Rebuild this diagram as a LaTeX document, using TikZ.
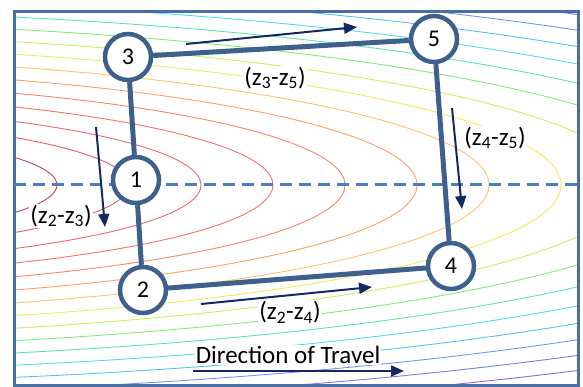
\documentclass[tikz,border=0pt]{standalone}
\usepackage{fontspec}
\setmainfont{Carlito}
\usetikzlibrary{arrows.meta}

\definecolor{ringblue}{RGB}{62,96,140}
\definecolor{frameblue}{RGB}{75,110,160}
\definecolor{dashblue}{RGB}{75,125,195}
\definecolor{stepnavy}{RGB}{20,40,100}
% 等高线颜色
\definecolor{c0}{RGB}{170,80,80}
\definecolor{c1}{RGB}{235,90,100}
\definecolor{c2}{RGB}{245,100,110}
\definecolor{c3}{RGB}{250,110,110}
\definecolor{c4}{RGB}{250,130,110}
\definecolor{c5}{RGB}{252,160,100}
\definecolor{c6}{RGB}{252,195,110}
\definecolor{c7}{RGB}{240,235,90}
\definecolor{c8}{RGB}{200,240,90}
\definecolor{c9}{RGB}{130,235,120}
\definecolor{c10}{RGB}{90,230,170}
\definecolor{c11}{RGB}{80,220,230}
\definecolor{c12}{RGB}{90,190,240}
\definecolor{c13}{RGB}{110,150,240}
\definecolor{c14}{RGB}{130,120,230}
\definecolor{c15}{RGB}{150,100,220}

\begin{document}
\begin{tikzpicture}[
    x=1pt, y=-1pt,
    point/.style={circle, draw=ringblue, fill=white, line width=4.5pt,
      minimum size=46pt, inner sep=0pt, font=\fontsize{24}{24}\selectfont},
    leg/.style={draw=ringblue, line width=5pt},
    move/.style={draw=stepnavy, line width=2pt, -{Triangle[length=13pt,width=11pt]}},
    lab/.style={fill=white, inner sep=1pt, font=\fontsize{25}{25}\selectfont},
]
  \useasboundingbox (0,0) rectangle (583,387);

  % 等高线
  \begin{scope}
    \clip (14,12) rectangle (578,385);
    \foreach \k in {0,...,15}{
      \pgfmathsetmacro{\ra}{357+72*\k}
      \pgfmathsetmacro{\rb}{0.163*\ra}
      \draw[c\k, line width=0.9pt] (-300,185) ellipse [x radius=\ra pt, y radius=\rb pt];
    }
  \end{scope}

  % 边框和虚线
  \draw[frameblue, line width=3pt] (14,12) rectangle (578,385);
  \draw[dashblue, line width=3pt, dash pattern=on 12pt off 7pt] (14,185) -- (578,185);

  % 说明文字
  \node[lab] (l23) at (61,216) {(z\textsubscript{2}-z\textsubscript{3})};
  \node[lab] (l35) at (275,78) {(z\textsubscript{3}-z\textsubscript{5})};
  \node[lab] (l45) at (495,138) {(z\textsubscript{4}-z\textsubscript{5})};
  \node[lab] (l24) at (290,312) {(z\textsubscript{2}-z\textsubscript{4})};
  \node[lab] (trav) at (288,355) {Direction of Travel};

  % 箭头
  \coordinate (s35) at (186,44);  \coordinate (e35) at (357,27);
  \coordinate (s23) at (96,127);  \coordinate (e23) at (105,227);
  \coordinate (s45) at (452,108); \coordinate (e45) at (462,209);
  \coordinate (s24) at (201,304); \coordinate (e24) at (372,287);
  \coordinate (st) at (193,371);  \coordinate (et) at (404,371);
  \draw[move] (s35) -- (e35);
  \draw[move] (s23) -- (e23);
  \draw[move] (s45) -- (e45);
  \draw[move] (s24) -- (e24);
  \draw[move] (st) -- (et);

  % 点
  \node[point] (p3) at (128,57) {3};
  \node[point] (p5) at (434,39) {5};
  \node[point] (p1) at (136,180) {1};
  \node[point] (p2) at (143,290) {2};
  \node[point] (p4) at (451,266) {4};

  \draw[leg] (p3) -- (p1);
  \draw[leg] (p1) -- (p2);
  \draw[leg] (p2) -- (p4);
  \draw[leg] (p4) -- (p5);
  \draw[leg] (p5) -- (p3);

\end{tikzpicture}
\end{document}
